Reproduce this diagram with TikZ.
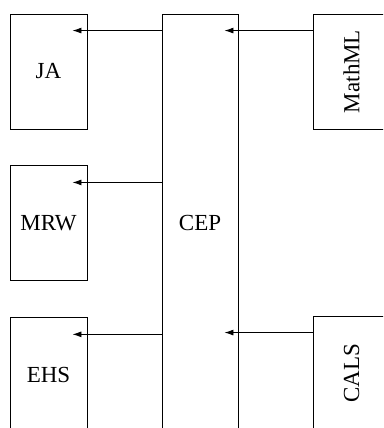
\documentclass[tikz,border=0pt]{standalone}
\usepackage{fontspec}
\setmainfont{Liberation Serif}
\usetikzlibrary{arrows.meta}
\usetikzlibrary{positioning}
\usetikzlibrary{calc}

\begin{document}
\begin{tikzpicture}[x=1pt, y=-1pt, line width=0.9pt,
    every node/.style = {font=\fontsize{23}{27}\selectfont},
    box/.style = {draw, inner sep=0pt, minimum width=77pt, minimum height=115pt},
    feed/.style = {-{Latex[length=9pt, width=6pt]}}]
    \useasboundingbox (0,0) rectangle (383,428);
    \clip (0,0) rectangle (383,428);
    % left column
    \node[box] (JA) at (48.5,71.5) {JA};
    \node[box, below=36pt of JA] (MRW) {MRW};
    \node[box, below=36pt of MRW] (EHS) {EHS};
    % middle
    \node[box, minimum width=76pt, minimum height=418pt] (CEP) at (200,223) {CEP};
    % right column
    \node[box, label={[rotate=90]center:MathML}] (MathML) at (351.5,71.5) {};
    \node[box, label={[rotate=90]center:CALS}] (CALS) at (351.5,373.5) {};
    % connectors
    \foreach \dst in {JA, MRW, EHS} {
        \coordinate (\dst-in) at ($(\dst.north east)+(-15,17)$);
        \draw[feed] (CEP.west |- \dst-in) -- (\dst-in);
    }
    \foreach \src in {MathML, CALS} {
        \coordinate (\src-out) at ($(\src.north west)+(0,17)$);
        \draw[feed] (\src-out) -- ($(CEP.east |- \src-out)+(-14,0)$);
    }
\end{tikzpicture}
\end{document}
